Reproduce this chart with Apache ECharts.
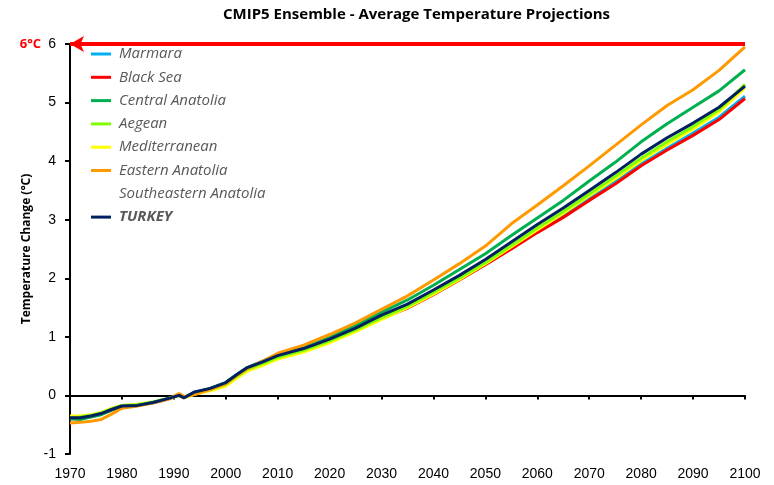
<!DOCTYPE html>
<html>
<head>
<meta charset="utf-8">
<script src="https://cdn.jsdelivr.net/npm/echarts@6/dist/echarts.min.js"></script>
<style>
  html, body { margin: 0; padding: 0; background: #fff; }
  #chart { width: 774px; height: 485px; }
</style>
</head>
<body>
<div id="chart"></div>
<script>
// Projected temperature change (°C) relative to 1986-2005, CMIP5 ensemble mean
const years = [1970,1972,1974,1976,1978,1980,1983,1986,1989,1991,1992,1994,1997,2000,2002,2004,2007,2010,2015,2020,2025,2030,2035,2040,2045,2050,2055,2060,2065,2070,2075,2080,2085,2090,2095,2100];

const marmara = [-0.39,-0.39,-0.36,-0.31,-0.24,-0.18,-0.17,-0.12,-0.05,0.00,-0.04,0.05,0.11,0.20,0.33,0.45,0.55,0.66,0.77,0.93,1.11,1.32,1.50,1.73,1.98,2.24,2.52,2.80,3.07,3.36,3.65,3.95,4.22,4.48,4.75,5.11];
const blackSea = [-0.40,-0.40,-0.36,-0.32,-0.25,-0.18,-0.17,-0.12,-0.06,0.00,-0.04,0.05,0.11,0.20,0.33,0.45,0.55,0.66,0.77,0.92,1.10,1.31,1.49,1.72,1.97,2.23,2.50,2.78,3.04,3.33,3.61,3.92,4.19,4.44,4.71,5.07];
const centralAnatolia = [-0.40,-0.41,-0.37,-0.33,-0.25,-0.19,-0.17,-0.12,-0.05,0.01,-0.03,0.05,0.12,0.22,0.35,0.47,0.58,0.70,0.83,0.99,1.19,1.42,1.63,1.88,2.15,2.42,2.73,3.03,3.33,3.66,3.98,4.33,4.64,4.92,5.20,5.56];
const aegean = [-0.38,-0.37,-0.34,-0.30,-0.23,-0.17,-0.16,-0.11,-0.05,0.00,-0.03,0.04,0.10,0.19,0.32,0.44,0.54,0.65,0.77,0.93,1.12,1.33,1.52,1.76,2.00,2.27,2.56,2.86,3.14,3.44,3.74,4.05,4.33,4.59,4.88,5.31];
const mediterranean = [-0.35,-0.35,-0.33,-0.29,-0.22,-0.17,-0.15,-0.11,-0.05,0.00,-0.04,0.02,0.08,0.16,0.29,0.41,0.51,0.62,0.74,0.90,1.09,1.30,1.50,1.73,1.98,2.25,2.54,2.83,3.11,3.41,3.70,4.01,4.29,4.55,4.84,5.25];
const easternAnatolia = [-0.47,-0.46,-0.44,-0.41,-0.32,-0.22,-0.18,-0.13,-0.06,0.03,-0.02,0.02,0.10,0.20,0.33,0.45,0.58,0.72,0.86,1.04,1.24,1.47,1.70,1.97,2.25,2.55,2.93,3.25,3.58,3.92,4.27,4.62,4.95,5.22,5.55,5.95];
const southeasternAnatolia = [];
const turkey = [-0.38,-0.38,-0.35,-0.31,-0.24,-0.18,-0.17,-0.12,-0.05,0.00,-0.04,0.06,0.12,0.22,0.35,0.47,0.57,0.68,0.80,0.96,1.15,1.37,1.56,1.80,2.05,2.32,2.62,2.92,3.20,3.50,3.80,4.12,4.40,4.65,4.92,5.28];

const yTicks = [-1, 0, 1, 2, 3, 4, 5, 6];
const threshold = 6;

const regions = [
  { name: 'Southeastern Anatolia', values: southeasternAnatolia, color: '#ffffff' },
  { name: 'Marmara', values: marmara, color: '#00b0f0' },
  { name: 'Black Sea', values: blackSea, color: '#ff0000' },
  { name: 'Mediterranean', values: mediterranean, color: '#ffff00' },
  { name: 'Aegean', values: aegean, color: '#7fff00' },
  { name: 'Central Anatolia', values: centralAnatolia, color: '#00b050' },
  { name: 'Eastern Anatolia', values: easternAnatolia, color: '#ff9900' },
  { name: 'TURKEY', values: turkey, color: '#002060' }
];
const legendOrder = ['Marmara','Black Sea','Central Anatolia','Aegean','Mediterranean','Eastern Anatolia','Southeastern Anatolia','TURKEY'];

const series = regions.map(r => ({
  name: r.name,
  type: 'line',
  data: r.values.map((v, i) => [years[i], v]),
  showSymbol: false,
  symbol: 'none',
  color: r.color,
  lineStyle: { width: 3, color: r.color },
  z: 3
}));

// 6 °C threshold arrow
series.push({
  name: 'threshold',
  type: 'line',
  data: [],
  markLine: {
    silent: true,
    symbol: ['none', 'arrow'],
    symbolSize: [12, 14],
    lineStyle: { color: '#ff0000', width: 4, type: 'solid' },
    label: {
      show: true,
      position: 'end',
      distance: 29,
      formatter: threshold + '°C',
      color: '#ff0000',
      fontWeight: 'bold',
      fontSize: 13,
      fontFamily: 'Open Sans'
    },
    data: [[{ coord: [years[years.length - 1], threshold] }, { coord: [years[0], threshold] }]]
  },
  z: 5
});

const chart = echarts.init(document.getElementById('chart'), null, { renderer: 'canvas' });
chart.setOption({
  animation: false,
  backgroundColor: '#ffffff',
  title: {
    text: 'CMIP5 Ensemble - Average Temperature Projections',
    left: 218,
    top: 2,
    textStyle: { fontFamily: 'Open Sans', fontWeight: 'bold', fontSize: 15, color: '#000' }
  },
  legend: {
    orient: 'vertical',
    left: 86,
    top: 41,
    itemWidth: 20,
    itemHeight: 3,
    itemGap: 7.3,
    icon: 'rect',
    data: legendOrder.map(n => ({
      name: n,
      textStyle: n === 'TURKEY' ? { fontWeight: 'bold' } : {}
    })),
    textStyle: {
      fontFamily: 'Open Sans',
      fontStyle: 'italic',
      fontSize: 15,
      color: '#595959',
      lineHeight: 16,
      padding: [0, 0, 0, 3]
    }
  },
  grid: { left: 70, right: 29, top: 44, bottom: 31 },
  xAxis: [
    {
      type: 'value',
      min: 1970, max: 2100, interval: 10,
      axisLine: { onZero: true, lineStyle: { color: '#000', width: 2 } },
      axisTick: { show: true, length: 4, lineStyle: { color: '#000', width: 2 } },
      axisLabel: { show: false },
      splitLine: { show: false }
    },
    {
      type: 'value',
      position: 'bottom',
      min: 1970, max: 2100, interval: 10,
      axisLine: { show: false, onZero: false },
      axisTick: { show: false },
      axisLabel: { margin: 13, fontFamily: 'Liberation Sans', fontSize: 14, color: '#000', formatter: v => String(v) },
      splitLine: { show: false }
    }
  ],
  yAxis: {
    type: 'value',
    min: yTicks[0], max: yTicks[yTicks.length - 1], interval: 1,
    name: 'Temperature Change (°C)',
    nameLocation: 'middle',
    nameGap: 29,
    nameTextStyle: { fontFamily: 'Open Sans', fontWeight: 'bold', fontSize: 12, color: '#000' },
    axisLine: { show: true, lineStyle: { color: '#000', width: 2 } },
    axisTick: { show: true, length: 5, lineStyle: { color: '#000', width: 2 } },
    axisLabel: { margin: 14, fontFamily: 'Liberation Sans', fontSize: 14, color: '#000' },
    splitLine: { show: false }
  },
  series: series
});
</script>
</body>
</html>
